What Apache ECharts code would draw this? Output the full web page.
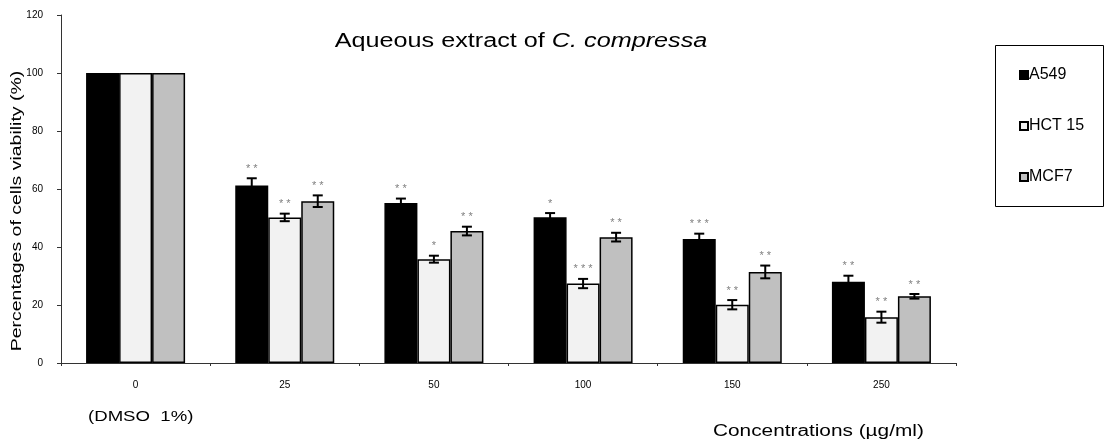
<!DOCTYPE html>
<html>
<head>
<meta charset="utf-8">
<script src="https://cdn.jsdelivr.net/npm/echarts@6/dist/echarts.min.js"></script>
<style>html,body{margin:0;padding:0;background:#fff}#c{width:1105px;height:440px}</style>
</head>
<body>
<div id="c"></div>
<script>
const categories = ['0', '25', '50', '100', '150', '250'];
const seriesNames = ['A549', 'HCT 15', 'MCF7'];
const yTicks = [0, 20, 40, 60, 80, 100, 120];
const a549 = [100, 61.2, 55.2, 50.3, 42.8, 28.0];
const hct15 = [100, 50.2, 35.8, 27.4, 20.1, 15.8];
const mcf7 = [100, 55.8, 45.5, 43.4, 31.4, 23.0];
const a549Err = [0, 2.5, 1.5, 1.4, 1.8, 2.1];
const hct15Err = [0, 1.3, 1.2, 1.6, 1.6, 1.9];
const mcf7Err = [0, 2.0, 1.5, 1.5, 2.2, 0.8];
const a549Sig = ['', '**', '**', '*', '***', '**'];
const hct15Sig = ['', '**', '*', '***', '**', '**'];
const mcf7Sig = ['', '**', '**', '**', '**', '**'];

const values = [a549, hct15, mcf7];
const errs = [a549Err, hct15Err, mcf7Err];
const sigs = [a549Sig, hct15Sig, mcf7Sig];
const colors = ['#000000', '#f2f2f2', '#c0c0c0'];
const BAR_W = 33;
const FONT = 'Liberation Sans, Arial, sans-serif';

const chart = echarts.init(document.getElementById('c'), null, {renderer: 'canvas'});

const barSeries = seriesNames.map((n, s) => ({
  name: n,
  type: 'bar',
  barWidth: BAR_W,
  barGap: '0%',
  data: values[s],
  itemStyle: {color: colors[s], borderColor: '#000', borderWidth: 1.5},
  emphasis: {disabled: true},
  z: 2
}));

const errSeries = seriesNames.map((n, s) => ({
  type: 'custom',
  name: n + ' err',
  data: values[s].map((v, i) => [i, v]),
  encode: {x: 0, y: 1},
  z: 5,
  silent: true,
  renderItem: function (params, api) {
    const i = params.dataIndex;
    const v = values[s][i];
    const e = errs[s][i];
    const off = (s - 1) * BAR_W;
    const top = api.coord([i, v + e]);
    const bot = api.coord([i, v - e]);
    const x = top[0] + off;
    const children = [];
    if (e > 0) {
      const cap = 5;
      const ls = {stroke: '#000', lineWidth: 2};
      children.push({type: 'line', shape: {x1: x, y1: top[1], x2: x, y2: bot[1]}, style: ls});
      children.push({type: 'line', shape: {x1: x - cap, y1: top[1], x2: x + cap, y2: top[1]}, style: ls});
      children.push({type: 'line', shape: {x1: x - cap, y1: bot[1], x2: x + cap, y2: bot[1]}, style: ls});
    }
    const sig = sigs[s][i];
    if (sig) {
      children.push({
        type: 'text',
        style: {
          text: sig.split('').join(' '),
          x: x, y: top[1] - 4,
          align: 'center', verticalAlign: 'bottom',
          fill: '#808080', font: '11px ' + FONT
        }
      });
    }
    return {type: 'group', children: children};
  }
}));

chart.setOption({
  animation: false,
  backgroundColor: '#fff',
  grid: {left: 61, right: 149, top: 15, bottom: 77, containLabel: false},
  legend: {
    data: seriesNames,
    orient: 'vertical',
    left: 1014, top: 62,
    itemGap: 35,
    itemWidth: 8, itemHeight: 8,
    icon: 'rect',
    selectedMode: false,
    textStyle: {fontSize: 16, fontFamily: FONT, color: '#000', padding: [0, 0, 0, -4]}
  },
  xAxis: {
    type: 'category',
    data: categories,
    axisLine: {lineStyle: {color: '#333', width: 1}},
    axisTick: {show: true, length: 3, lineStyle: {color: '#333'}},
    axisLabel: {fontSize: 10, fontFamily: FONT, color: '#000', margin: 17}
  },
  yAxis: {
    type: 'value',
    min: yTicks[0], max: yTicks[yTicks.length - 1], interval: 20,
    axisLine: {show: true, lineStyle: {color: '#333', width: 1}},
    axisTick: {show: true, length: 4, lineStyle: {color: '#333'}},
    splitLine: {show: false},
    axisLabel: {fontSize: 10, fontFamily: FONT, color: '#000', margin: 18}
  },
  graphic: [
    {type: 'rect', left: 993, top: 43, shape: {width: 108, height: 161}, style: {fill: 'none', stroke: '#000', lineWidth: 1}, silent: true},
    {type: 'text', x: 521, y: 41, scaleX: 1.26,
     style: {text: '{a|Aqueous extract of }{b|C. compressa}', align: 'center', verticalAlign: 'middle',
       rich: {a: {fontSize: 20, fontFamily: FONT, fill: '#000'}, b: {fontSize: 20, fontFamily: FONT, fill: '#000', fontStyle: 'italic'}}}},
    {type: 'text', x: 17, y: 211, rotation: Math.PI / 2, scaleX: 1.3,
     style: {text: 'Percentages of cells viability (%)', font: '15px ' + FONT, fill: '#000', align: 'center', verticalAlign: 'middle'}},
    {type: 'text', x: 88, y: 417, scaleX: 1.24,
     style: {text: '(DMSO  1%)', font: '15px ' + FONT, fill: '#000', verticalAlign: 'middle'}},
    {type: 'text', x: 713, y: 432, scaleX: 1.3,
     style: {text: 'Concentrations (µg/ml)', font: '16px ' + FONT, fill: '#000', verticalAlign: 'middle'}}
  ],
  series: barSeries.concat(errSeries)
});
</script>
</body>
</html>
